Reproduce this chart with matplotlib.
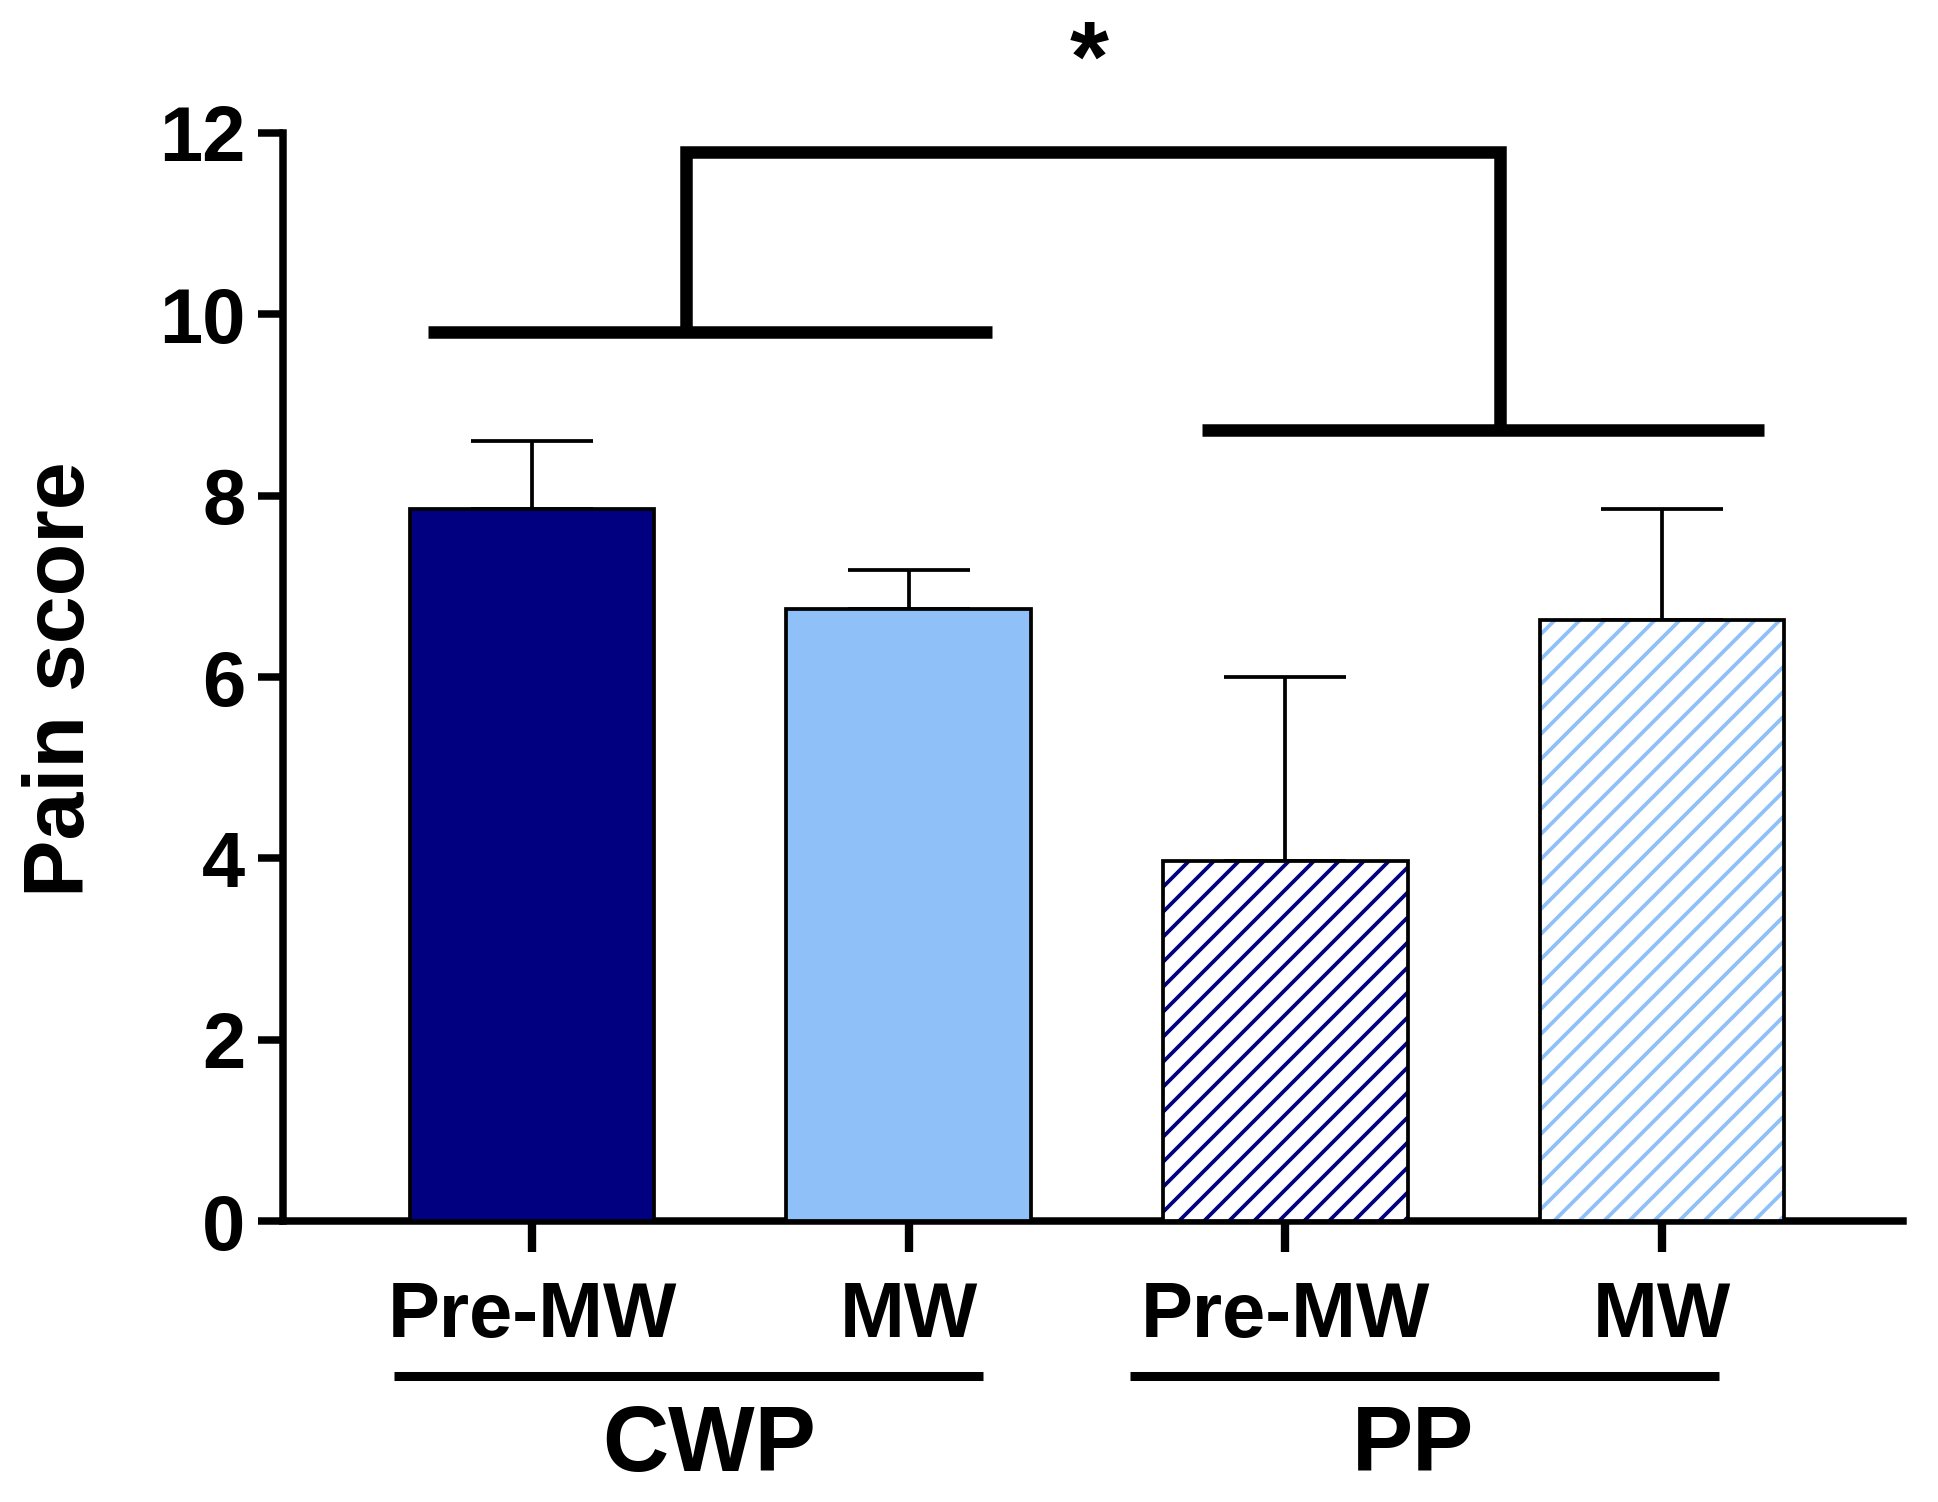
import matplotlib
matplotlib.use("Agg")
import matplotlib.pyplot as plt

DPI = 150
S = 100.0 / DPI  # point-size scale so that pixel sizes stay the same

plt.rcParams['font.family'] = ['Liberation Sans', 'DejaVu Sans']
plt.rcParams['font.weight'] = 'bold'
plt.rcParams['hatch.linewidth'] = 1.8

# ---- data ----
conditions = ["Pre-MW", "MW", "Pre-MW", "MW"]
groups = ["CWP", "PP"]
means = [7.85, 6.75, 3.97, 6.63]
sem_upper = [0.75, 0.43, 2.03, 1.22]
fill_colors = ["#000080", "#90C0F8", "white", "white"]
hatch_colors = [None, None, "#000080", "#90C0F8"]
yticks = [0, 2, 4, 6, 8, 10, 12]
ylabel = "Pain score"
sig_label = "*"

fig = plt.figure(figsize=(1938 / DPI, 1502 / DPI), dpi=DPI)
ax = fig.add_axes([0.146, 0.187, 0.836, 0.7245])

x = list(range(len(means)))
width = 0.65

for i in x:
    if hatch_colors[i] is None:
        ax.bar(i, means[i], width, color=fill_colors[i], edgecolor="black",
               linewidth=2.7 * S, zorder=3)
    else:
        ax.bar(i, means[i], width, color="white", edgecolor=hatch_colors[i],
               hatch="//", linewidth=0, zorder=3)
        ax.bar(i, means[i], width, fill=False, edgecolor="black",
               linewidth=2.7 * S, zorder=4)

ax.errorbar(x, means, yerr=[[0] * len(means), sem_upper], fmt="none",
            ecolor="black", elinewidth=2.7 * S, capsize=44 * S,
            capthick=2.7 * S, zorder=2)

ax.set_xlim(-0.661, 3.64)
ax.set_ylim(0, 12)
ax.set_yticks(yticks)
ax.set_yticklabels([str(t) for t in yticks], fontsize=56 * S, fontweight="bold")
ax.set_xticks(x)
ax.set_xticklabels([])
ax.tick_params(axis="y", length=18 * S, width=5.4 * S, pad=9 * S)
ax.tick_params(axis="x", length=22 * S, width=6 * S)
for s in ["top", "right"]:
    ax.spines[s].set_visible(False)
for s in ["left", "bottom"]:
    ax.spines[s].set_linewidth(5.4 * S)
    ax.spines[s].set_capstyle("projecting")

# x condition labels
for i, lab in enumerate(conditions):
    ax.text(i, -1.05, lab, ha="center", va="center", fontsize=56 * S,
            fontweight="bold", clip_on=False)

# group underlines and labels
group_spans = [(-0.365, 1.197), (1.587, 3.15)]
group_centers = [0.47, 2.34]
for (a, b), c, g in zip(group_spans, group_centers, groups):
    ax.plot([a, b], [-1.71, -1.71], color="black", lw=6.5 * S, clip_on=False,
            solid_capstyle="butt")
    ax.text(c, -2.49, g, ha="center", va="center", fontsize=66 * S,
            fontweight="bold", clip_on=False)

# significance brackets
lw_b = 9 * S
ax.plot([-0.276, 1.22], [9.8, 9.8], color="black", lw=lw_b, clip_on=False,
        solid_capstyle="butt")
ax.plot([1.78, 3.27], [8.72, 8.72], color="black", lw=lw_b, clip_on=False,
        solid_capstyle="butt")
ax.plot([0.41, 0.41, 2.57, 2.57], [9.8, 11.79, 11.79, 8.72], color="black",
        lw=lw_b, clip_on=False, solid_joinstyle="miter", solid_capstyle="butt")
ax.text(1.48, 12.75, sig_label, ha="center", va="center", fontsize=72 * S,
        fontweight="bold", clip_on=False)

fig.text(0.032, 0.548, ylabel, rotation=90, ha="center", va="center",
         fontsize=62 * S, fontweight="bold")

fig.savefig("out.png", dpi=DPI, facecolor="white")
